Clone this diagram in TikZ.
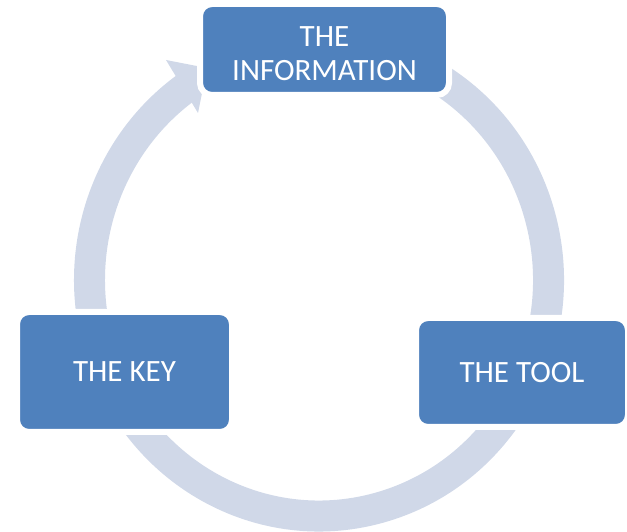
\documentclass[tikz,border=0pt]{standalone}
\usepackage{fontspec}
\setmainfont{Carlito}

\definecolor{boxblue}{RGB}{79,129,189}
\definecolor{ringblue}{RGB}{208,216,232}

\tikzstyle{cyclebox}=[draw=white,line width=6,fill=boxblue,rounded corners=12]
\tikzstyle{boxtext}=[text=white,font=\fontsize{31}{33.5}\selectfont,align=center]

\begin{document}
\begin{tikzpicture}[x=1pt,y=1pt]

   \useasboundingbox (0,0) rectangle (627,532);

   % Ring with one arrow head

   \coordinate (ringc) at (319,252);
   \draw[ringblue,line width=31] (ringc) ++(105:229.5 and 236)
arc[start angle=105,end angle=-236,x radius=229.5,y radius=236];
   \fill[ringblue] (166,472) coordinate(headout) -- (207,464) coordinate(headtip)
-- (198,419) coordinate(headin) -- cycle;

   % Boxes

   \node[cyclebox,minimum width=249,minimum height=91,
label={[boxtext,yshift=-4]center:{THE\\INFORMATION}}] (info) at (324.5,482.5) {};
   \node[cyclebox,boxtext,minimum width=215,minimum height=120] (key) at (124.5,160) {THE KEY};
   \node[cyclebox,boxtext,minimum width=212,minimum height=109] (tool) at (522,159.5) {THE TOOL};

\end{tikzpicture}
\end{document}
